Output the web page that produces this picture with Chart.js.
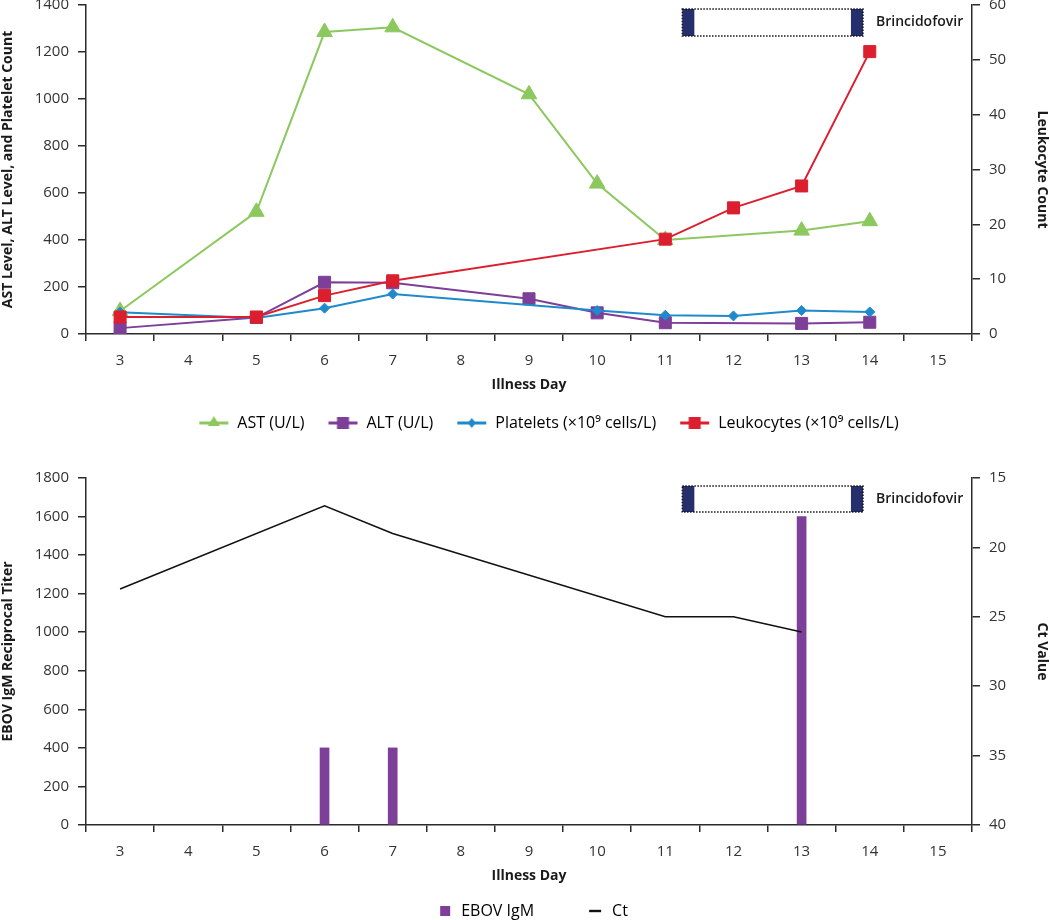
<!DOCTYPE html>
<html>
<head>
<meta charset="utf-8">
<title>Illness day course</title>
<script src="https://cdn.jsdelivr.net/npm/chart.js@4.4.1/dist/chart.umd.min.js"></script>
<style>
  html, body { margin: 0; padding: 0; background: #fff; overflow: hidden; }
  #labChart { position: absolute; left: 0; top: 0; }
  #viralChart { position: absolute; left: 0; top: 445px; }
</style>
</head>
<body>
<canvas id="labChart" width="1050" height="445"></canvas>
<canvas id="viralChart" width="1050" height="484"></canvas>
<script>
const days = ['3', '4', '5', '6', '7', '8', '9', '10', '11', '12', '13', '14', '15'];

// top panel
const astValues = [98, null, 520, 1285, 1305, null, 1020, 640, 400, null, 440, 480, null];
const altValues = [25, null, 70, 220, 218, null, 150, 90, 48, null, 45, 50, null];
const plateletValues = [93, null, 68, 110, 170, null, null, 100, 80, 77, 100, 94, null];
const leukocyteValues = [3.1, null, 3.1, 7, 9.7, null, null, null, 17.3, 23, 27, 51.5, null];
const labTicks = [0, 200, 400, 600, 800, 1000, 1200, 1400];
const leukocyteTicks = [0, 10, 20, 30, 40, 50, 60];

// bottom panel
const igmTiters = [null, null, null, 400, 400, null, null, null, null, null, 1600, null, null];
const ctValues = [23, null, null, 17, 19, null, null, null, 25, 25, 26.1, null, null];
const titerTicks = [0, 200, 400, 600, 800, 1000, 1200, 1400, 1600, 1800];
const ctTicks = [15, 20, 25, 30, 35, 40];

// brincidofovir given between these illness days
const brincidofovirDays = [11.25, 13.9];

const FONT = '"Open Sans", "DejaVu Sans", sans-serif';
const GREEN = '#8cc85e';
const PURPLE = '#7d3f98';
const BLUE = '#1f8acb';
const RED = '#dc1f2e';
const NAVY = '#262f6e';
const AXIS = '#2b2b2b';
const TEXT = '#333';

function legendIcon(width, draw) {
  const c = document.createElement('canvas');
  c.width = width;
  c.height = 18;
  draw(c.getContext('2d'), width, 9);
  return c;
}

function lineIcon(color, marker) {
  return legendIcon(34, (ctx, w, cy) => {
    const x0 = 4;
    ctx.strokeStyle = color;
    ctx.fillStyle = color;
    ctx.lineWidth = 3;
    ctx.beginPath();
    ctx.moveTo(x0, cy);
    ctx.lineTo(x0 + 29, cy);
    ctx.stroke();
    const cx = x0 + 14.5;
    ctx.beginPath();
    if (marker === 'triangle') {
      ctx.moveTo(cx, cy - 7);
      ctx.lineTo(cx + 6, cy + 3);
      ctx.lineTo(cx - 6, cy + 3);
    } else if (marker === 'square') {
      ctx.rect(cx - 6, cy - 6, 12, 12);
    } else {
      ctx.moveTo(cx, cy - 5);
      ctx.lineTo(cx + 4, cy);
      ctx.lineTo(cx, cy + 5);
      ctx.lineTo(cx - 4, cy);
    }
    ctx.closePath();
    ctx.fill();
  });
}

function dayIndex(d) {
  return d - Number(days[0]);
}

const treatmentBar = {
  id: 'treatmentBar',
  afterDatasetsDraw(chart, args, opts) {
    const {ctx, chartArea, scales: {x}} = chart;
    const left = x.getPixelForValue(dayIndex(brincidofovirDays[0]));
    const right = x.getPixelForValue(dayIndex(brincidofovirDays[1]));
    const top = chartArea.top + opts.offset;
    const h = opts.height;
    ctx.save();
    ctx.fillStyle = '#fff';
    ctx.fillRect(left, top, right - left, h);
    ctx.fillStyle = NAVY;
    ctx.fillRect(left, top, opts.cap, h);
    ctx.fillRect(right - opts.cap, top, opts.cap, h);
    ctx.strokeStyle = '#111';
    ctx.lineWidth = 1.5;
    ctx.setLineDash([1.5, 1.5]);
    ctx.strokeRect(left, top, right - left, h);
    ctx.setLineDash([]);
    ctx.fillStyle = '#1a1a1a';
    ctx.font = '600 14px ' + FONT;
    ctx.textBaseline = 'middle';
    ctx.fillText('Brincidofovir', right + 13, top + h / 2);
    ctx.restore();
  }
};

// nudge the centred legend sideways
const legendShift = {
  id: 'legendShift',
  afterLayout(chart, args, opts) {
    if (chart.legend) chart.legend.left += opts.dx * 2;
  }
};

function xAxis() {
  return {
    offset: true,
    grid: { offset: true, drawOnChartArea: false, drawTicks: true, tickLength: 7, color: AXIS, lineWidth: 1.5 },
    border: { color: AXIS, width: 1.5 },
    ticks: { color: TEXT, font: { family: FONT, size: 15 }, padding: 11, maxRotation: 0, autoSkip: false },
    title: { display: true, text: 'Illness Day', color: '#1a1a1a', font: { family: FONT, size: 14, weight: 'bold' }, padding: { top: 0, bottom: 2 } },
    afterFit(scale) { scale.height = 61; }
  };
}

function yAxis(position, ticks, title, width, reverse) {
  return {
    position: position,
    min: Math.min(...ticks),
    max: Math.max(...ticks),
    reverse: !!reverse,
    afterBuildTicks(scale) { scale.ticks = ticks.map(v => ({ value: v })); },
    grid: { drawOnChartArea: false, drawTicks: true, tickLength: 8, color: AXIS, lineWidth: 1.5 },
    border: { color: AXIS, width: 1.5 },
    ticks: { color: TEXT, font: { family: FONT, size: 15 }, padding: 9, callback: v => String(v) },
    title: { display: true, text: title, color: '#1a1a1a', font: { family: FONT, size: 14, weight: 'bold' }, padding: 0 },
    afterFit(scale) {
      scale.width = width;
      scale.paddingTop = 0;
      scale.paddingBottom = 0;
    }
  };
}

new Chart(document.getElementById('labChart'), {
  type: 'line',
  data: {
    labels: days,
    datasets: [
      { label: 'AST (U/L)', data: astValues, yAxisID: 'y', order: 4, borderColor: GREEN, backgroundColor: GREEN,
        borderWidth: 2, pointStyle: 'triangle', pointRadius: 9, pointBorderWidth: 1, spanGaps: true },
      { label: 'ALT (U/L)', data: altValues, yAxisID: 'y', order: 3, borderColor: PURPLE, backgroundColor: PURPLE,
        borderWidth: 2, pointStyle: 'rect', pointRadius: 8.5, pointBorderWidth: 1, spanGaps: true },
      { label: 'Platelets (\u00d710\u2079 cells/L)', data: plateletValues, yAxisID: 'y', order: 2, borderColor: BLUE, backgroundColor: BLUE,
        borderWidth: 2, pointStyle: 'rectRot', pointRadius: 5, pointBorderWidth: 1, spanGaps: true },
      { label: 'Leukocytes (\u00d710\u2079 cells/L)', data: leukocyteValues, yAxisID: 'y2', order: 1, borderColor: RED, backgroundColor: RED,
        borderWidth: 2, pointStyle: 'rect', pointRadius: 8.5, pointBorderWidth: 1, spanGaps: true }
    ]
  },
  options: {
    responsive: false,
    animation: false,
    layout: { autoPadding: false, padding: { top: 5, bottom: 4, left: 0, right: 0 } },
    scales: {
      x: xAxis(),
      y: yAxis('left', labTicks, 'AST Level, ALT Level, and Platelet Count', 86),
      y2: yAxis('right', leukocyteTicks, 'Leukocyte Count', 78)
    },
    plugins: {
      tooltip: { enabled: false },
      treatmentBar: { offset: 4, height: 27, cap: 12 },
      legendShift: { dx: 22 },
      legend: {
        position: 'bottom',
        labels: {
          usePointStyle: true,
          pointStyleWidth: 34,
          padding: 20,
          color: '#222',
          font: { family: FONT, size: 16, weight: 500 },
          generateLabels(chart) {
            const markers = ['triangle', 'square', 'diamond', 'square'];
            return chart.data.datasets.map((ds, i) => ({
              text: ds.label,
              pointStyle: lineIcon(ds.borderColor, markers[i]),
              fillStyle: ds.borderColor,
              strokeStyle: ds.borderColor,
              lineWidth: 0,
              hidden: false,
              datasetIndex: i
            }));
          }
        }
      }
    }
  },
  plugins: [treatmentBar, legendShift]
});

new Chart(document.getElementById('viralChart'), {
  type: 'bar',
  data: {
    labels: days,
    datasets: [
      { type: 'bar', label: 'EBOV IgM', data: igmTiters, yAxisID: 'y', order: 1, backgroundColor: PURPLE, barThickness: 9 },
      { type: 'line', label: 'Ct', data: ctValues, yAxisID: 'y2', order: 0, borderColor: '#111', backgroundColor: '#111',
        borderWidth: 1.5, pointRadius: 0, spanGaps: true, tension: 0 }
    ]
  },
  options: {
    responsive: false,
    animation: false,
    layout: { autoPadding: false, padding: { top: 33, bottom: 0, left: 0, right: 0 } },
    scales: {
      x: xAxis(),
      y: yAxis('left', titerTicks, 'EBOV IgM Reciprocal Titer', 86),
      y2: yAxis('right', ctTicks, 'Ct Value', 78, true)
    },
    plugins: {
      tooltip: { enabled: false },
      treatmentBar: { offset: 8, height: 26, cap: 12 },
      legendShift: { dx: -11 },
      legend: {
        position: 'bottom',
        labels: {
          usePointStyle: true,
          pointStyleWidth: 53,
          padding: 17,
          color: '#222',
          font: { family: FONT, size: 16, weight: 500 },
          generateLabels(chart) {
            return [
              { text: 'EBOV IgM', datasetIndex: 0, hidden: false, lineWidth: 0, fillStyle: PURPLE,
                pointStyle: legendIcon(53, (ctx, w, cy) => { ctx.fillStyle = PURPLE; ctx.fillRect(w - 13, cy - 5, 10, 10); }) },
              { text: 'Ct', datasetIndex: 1, hidden: false, lineWidth: 0, fillStyle: '#111',
                pointStyle: legendIcon(53, (ctx, w, cy) => { ctx.fillStyle = '#111'; ctx.fillRect(w - 15, cy - 1.2, 12, 2.4); }) }
            ];
          }
        }
      }
    }
  },
  plugins: [treatmentBar, legendShift]
});
</script>
</body>
</html>
